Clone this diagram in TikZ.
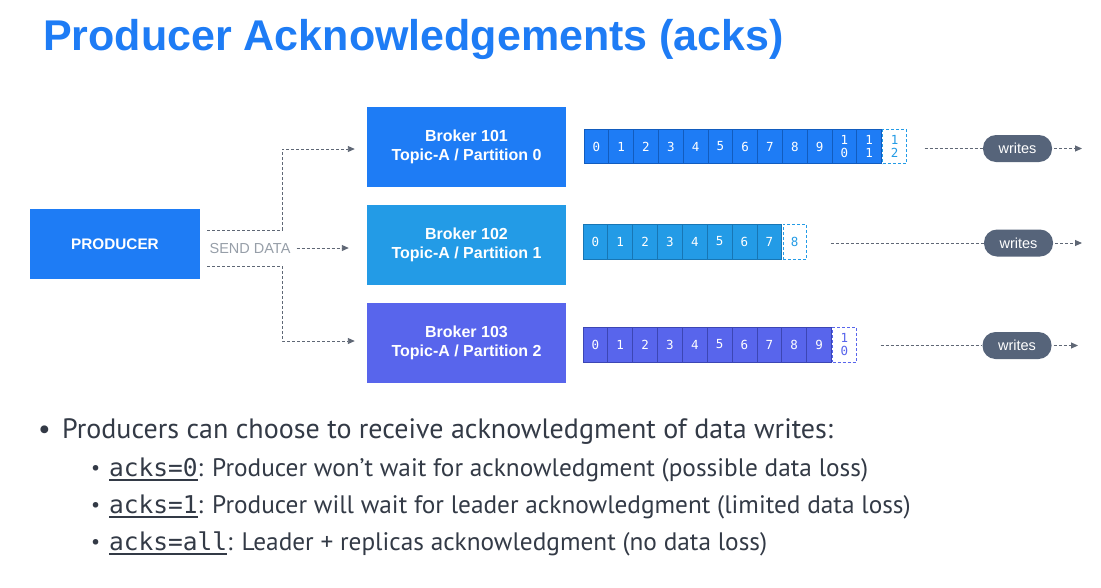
\documentclass[tikz,border=0pt]{standalone}
\usepackage{fontspec}
\setmainfont{Liberation Sans}
\newfontfamily\bodyfont{PT Sans}
\newfontfamily\codefont{DejaVu Sans Mono}
\usetikzlibrary{calc,arrows.meta}
\definecolor{kblue}{RGB}{30,124,245}
\definecolor{kblueline}{RGB}{18,92,190}
\definecolor{kcyan}{RGB}{35,155,230}
\definecolor{kcyanline}{RGB}{24,118,180}
\definecolor{kindigo}{RGB}{88,101,236}
\definecolor{kindigoline}{RGB}{60,70,180}
\definecolor{slate}{RGB}{86,100,122}
\definecolor{dashgray}{RGB}{95,103,117}
\definecolor{labelgray}{RGB}{150,158,168}
\definecolor{bodytext}{RGB}{51,58,70}
\newcommand\codeul[1]{\setbox0\hbox{#1}\rlap{\rule[-4.5pt]{\wd0}{1.3pt}}\box0}
\newcommand\codetxt[1]{\codeul{\codefont\fontsize{24.5}{26}\selectfont #1}}
\tikzset{
  box/.style={minimum width=199pt,minimum height=80pt,inner sep=0pt,text=white,
    font=\fontsize{16}{19}\selectfont\bfseries,align=center},
  cell/.style={draw=#1line,fill=#1,line width=0.8pt,minimum width=24.8pt,inner sep=0pt,
    text=white,font=\codefont\fontsize{12.5}{13}\selectfont,align=center},
  nextcell/.style={draw=#1,densely dashed,fill=white,line width=0.8pt,minimum width=23.5pt,inner sep=0pt,
    text=#1,font=\codefont\fontsize{12.5}{13}\selectfont,align=center},
  flow/.style={draw=dashgray,dash pattern=on 3pt off 2pt,line width=0.9pt,
    -{Triangle[length=7pt,width=6pt]}},
  flowline/.style={draw=dashgray,dash pattern=on 3pt off 2pt,line width=0.9pt},
  pill/.style={fill=slate,rounded corners=13pt,minimum width=69pt,minimum height=27pt,
    inner sep=0pt,text=white,font=\fontsize{14.5}{15}\selectfont},
  dot/.style={anchor=base west,inner sep=0pt,text=bodytext,font=\bodyfont\fontsize{20}{22}\selectfont},
}
\begin{document}
\begin{tikzpicture}[x=1pt,y=-1pt]
\useasboundingbox (0,0) rectangle (1101,587);
% title
\node[anchor=base west,text=kblue,inner sep=0pt,font=\fontsize{43}{46}\selectfont\bfseries]
  (title) at (43,50) {Producer Acknowledgements (acks)};
% producer and brokers
\node[fill=kblue,minimum width=170pt,minimum height=70pt,inner sep=0pt,text=white,
  font=\fontsize{15.3}{16}\selectfont\bfseries] (prod) at (115,244) {PRODUCER};
\node[box,fill=kblue] (b101) at (466.5,147) {Broker 101\\Topic-A / Partition 0};
\node[box,fill=kcyan] (b102) at (466.5,245) {Broker 102\\Topic-A / Partition 1};
\node[box,fill=kindigo] (b103) at (466.5,343) {Broker 103\\Topic-A / Partition 2};
\node[text=labelgray,inner sep=0pt,font=\fontsize{14.5}{15}\selectfont] (send) at (250,249) {SEND DATA};
% send arrows
\draw[flow] ($(prod.east)+(7,-14)$) -- ++(75,0) |- ([xshift=-12pt,yshift=-2pt]b101.west);
\coordinate (s0) at ($(send.east)+(6,-1)$);
\draw[flow] (s0) -- (s0 -| {$(b102.west)+(-18,0)$});
\draw[flow] ($(prod.east)+(7,22)$) -- ++(75,0) |- ([xshift=-12pt,yshift=2pt]b103.west);
% partition 0 log
\foreach \i [count=\k from 0] in {0,1,2,3,4,5,6,7,8,9,{1\\0},{1\\1}}
  \node[cell=kblue,minimum height=34pt] (p0c\k) at (596.4+24.8*\k,146.5) {\i};
\node[nextcell=kcyan,minimum height=34pt,anchor=west] (p0n) at ([xshift=0.4pt]p0c11.east) {1\\2};
% partition 1 log
\foreach \i [count=\k from 0] in {0,1,2,3,4,5,6,7}
  \node[cell=kcyan,minimum height=35pt] (p1c\k) at (595.4+24.85*\k,241.5) {\i};
\node[nextcell=kcyan,minimum height=35pt,anchor=west] (p1n) at ([xshift=0.4pt]p1c7.east) {8};
% partition 2 log
\foreach \i [count=\k from 0] in {0,1,2,3,4,5,6,7,8,9}
  \node[cell=kindigo,minimum height=35pt] (p2c\k) at (595.4+24.85*\k,344.5) {\i};
\node[nextcell=kindigo,minimum height=35pt,anchor=west] (p2n) at ([xshift=0.4pt]p2c9.east) {1\\0};
% writes
\node[pill] (w0) at (1017.5,148.5) {writes};
\node[pill] (w1) at (1018.5,243) {writes};
\node[pill] (w2) at (1017,345.5) {writes};
\draw[flowline] ([xshift=18pt]p0n.east |- w0.west) -- (w0.west);
\draw[flowline] ([xshift=24pt]p1n.east |- w1.west) -- (w1.west);
\draw[flowline] ([xshift=24pt]p2n.east |- w2.west) -- (w2.west);
\coordinate (e0) at (1082,148.5);
\coordinate (e1) at (1082,243);
\coordinate (e2) at (1078,345.5);
\draw[flow] ([xshift=2pt]w0.east) -- (e0);
\draw[flow] ([xshift=2pt]w1.east) -- (e1);
\draw[flow] ([xshift=2pt]w2.east) -- (e2);
% bullet list
\begin{scope}[every node/.style={anchor=base west,inner sep=0pt,text=bodytext,
    font=\bodyfont\fontsize{25.3}{30}\selectfont}]
\node[font=\bodyfont\fontsize{28}{30}\selectfont] (d0) at (38,438) {•};
\node[font=\bodyfont\fontsize{28}{30}\selectfont] (t0) at (62,438) {Producers can choose to receive acknowledgment of data writes:};
\node[dot] (d1) at (91,474) {•};
\node (t1) at (109,476) {\codetxt{acks=0}: Producer won’t wait for acknowledgment (possible data loss)};
\node[dot] (d2) at (91,511) {•};
\node (t2) at (109,513) {\codetxt{acks=1}: Producer will wait for leader acknowledgment (limited data loss)};
\node[dot] (d3) at (91,548) {•};
\node (t3) at (109,550) {\codetxt{acks=all}: Leader + replicas acknowledgment (no data loss)};
\end{scope}
\end{tikzpicture}
\end{document}
